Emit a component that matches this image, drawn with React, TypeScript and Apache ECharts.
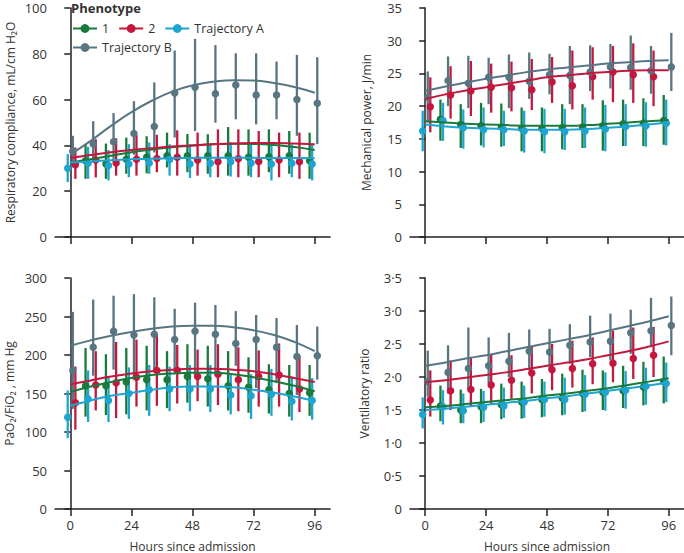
import React, { useEffect, useRef } from "react";
import * as echarts from "echarts";

// ---------- time positions (hours since admission) ----------
const hoursFit = [0, 8, 16, 24, 32, 40, 48, 56, 64, 72, 80, 88, 96];
const hoursP1 = [6, 14, 22, 30, 38, 46, 54, 62, 70, 78, 86, 94];
const hoursP2 = [2, 10, 18, 26, 34, 42, 50, 58, 66, 74, 82, 90];
const hoursTA = [-1, 7, 15, 23, 31, 39, 47, 55, 63, 71, 79, 87, 95];
const hoursTB = [1, 9, 17, 25, 33, 41, 49, 57, 65, 73, 81, 89, 97];
const xTicks = [0, 24, 48, 72, 96];

// ---------- Respiratory compliance ----------
const rcP1 = [33.3, 31.9, 34, 34.8, 35.5, 35.5, 35.5, 35.5, 34.8, 35, 35.5, 33.3];
const rcP1Lo = [25.4, 25.4, 27.6, 27.8, 30.4, 28.3, 27.6, 26.8, 26.8, 28.3, 27.6, 25.4];
const rcP1Hi = [40.5, 40.8, 43.4, 44, 45.6, 45, 44.9, 48, 47, 47, 46.3, 45.6];
const rcP1Fit = [32.5, 34, 35.5, 37, 38.2, 39.2, 40, 40.5, 40.7, 40.6, 40.2, 39.3, 38];

const rcP2 = [31.5, 33.6, 32.3, 34, 34.3, 34.8, 33.6, 32.9, 34.2, 33, 33.6, 32.9];
const rcP2Lo = [25.4, 26, 26.8, 26.8, 28.3, 26.8, 26.8, 26.1, 26.1, 26.1, 26.1, 25.4];
const rcP2Hi = [39.1, 42.7, 43.1, 44.6, 44.6, 46.6, 45.6, 47, 47, 46.3, 45.6, 45.6];
const rcP2Fit = [34.5, 35.8, 37, 38, 38.8, 39.5, 40, 40.5, 40.8, 41, 41, 40.8, 40.5];

const rcTA = [30, 32.2, 31.2, 31.9, 32.3, 33.8, 31.9, 32.2, 32.9, 32.3, 31.9, 32.2, 31.9];
const rcTALo = [24, 25.4, 24.7, 26.1, 27.6, 26.8, 25.8, 26.1, 26.4, 26.1, 24.7, 26.1, 24.7];
const rcTAHi = [36.2, 39.4, 38, 40.5, 41.3, 40.5, 40.5, 40.3, 41.3, 40.5, 40.3, 40.5, 40.3];
const rcTAFit = [32.5, 33, 33.5, 33.9, 34.2, 34.4, 34.5, 34.6, 34.6, 34.6, 34.5, 34.5, 34.4];

const rcTB = [37.4, 40.6, 41.6, 45.2, 48.2, 62.9, 65.4, 62.6, 66.4, 62, 62, 60, 58.4];
const rcTBLo = [30.4, 32.5, 32.9, 35.9, 36.9, 43.4, 46.3, 49.9, 51.4, 49.2, 51.4, 44.2, 40.6];
const rcTBHi = [44.2, 50.6, 54.1, 59.3, 67.5, 81.4, 86.5, 83.8, 80.2, 80.2, 76.6, 79.5, 78.5];
const rcTBFit = [36, 42, 48.5, 54.5, 59.5, 63.5, 66.2, 67.8, 68.5, 68.3, 67.2, 65.5, 63];

// ---------- Mechanical power ----------
const mpP1 = [18, 17.2, 17, 16.8, 16.6, 16.6, 16.7, 16.8, 17, 17.3, 17.4, 17.8];
const mpP1Lo = [14.7, 13.6, 14, 13.8, 13.1, 13.1, 13.4, 13.6, 13.2, 13.9, 13.9, 14.1];
const mpP1Hi = [21, 20.3, 20.5, 20.4, 19.8, 19.8, 20.3, 20.3, 20.9, 21, 21.2, 21.7];
const mpP1Fit = [17.7, 17.5, 17.3, 17.2, 17.1, 17, 17, 17, 17.1, 17.3, 17.5, 17.7, 17.9];

const mpP2 = [19.9, 21.7, 22.3, 22.9, 22.8, 22.5, 23.7, 23.1, 24.5, 25.2, 24.8, 24.5];
const mpP2Lo = [16, 18.1, 18.5, 19, 19.2, 19.4, 20.5, 19.5, 21, 20.6, 20.5, 20];
const mpP2Hi = [24.4, 26.1, 26.9, 26.5, 26.8, 27.2, 27.5, 28.5, 29, 29.2, 29.6, 28.5];
const mpP2Fit = [21.1, 21.8, 22.4, 22.9, 23.4, 23.9, 24.4, 24.7, 25, 25.2, 25.4, 25.5, 25.5];

const mpTA = [16.2, 17.8, 16.7, 16.4, 16.4, 16.2, 16.1, 16.1, 16.2, 16.5, 16.9, 17, 17.4];
const mpTALo = [13.1, 14.7, 13.5, 13.7, 13.9, 12.9, 12.8, 13.3, 13.6, 13.1, 13.9, 13.8, 14];
const mpTAHi = [19.3, 20.5, 19.5, 19.8, 19.3, 19.3, 19.6, 19.6, 19.8, 20.2, 20.3, 20.6, 21];
const mpTAFit = [17.2, 16.9, 16.7, 16.6, 16.5, 16.4, 16.4, 16.4, 16.5, 16.7, 16.9, 17.2, 17.5];

const mpTB = [21.4, 23.9, 23.5, 24.4, 24.4, 23.8, 24.8, 24.7, 25.2, 26, 25.9, 25.4, 26];
const mpTBLo = [17.5, 20, 19.7, 20.3, 19.7, 21.1, 21.8, 20.3, 22.3, 22.7, 22.5, 21.9, 22.3];
const mpTBHi = [25.3, 27.6, 27.7, 27.4, 27.9, 28.2, 28, 29.2, 29.3, 29.5, 30.8, 29.2, 31.2];
const mpTBFit = [22.3, 23, 23.6, 24.2, 24.7, 25.2, 25.6, 25.9, 26.2, 26.5, 26.7, 26.9, 27];

// ---------- PaO2/FiO2 ----------
const pfP1 = [160, 160, 165, 168, 168, 172, 169, 160, 158, 155, 150, 151];
const pfP1Lo = [120, 122, 123, 128, 131, 138, 133, 128, 125, 124, 120, 121];
const pfP1Hi = [209, 201, 209, 212, 205, 214, 212, 205, 197, 188, 187, 187];
const pfP1Fit = [152, 159, 165, 170, 174, 176, 177, 177, 175, 171, 166, 160, 153];

const pfP2 = [138, 161, 164, 171, 180, 180, 172, 175, 168, 172, 174, 156];
const pfP2Lo = [103, 128, 118, 133, 134, 137, 140, 135, 127, 133, 133, 126];
const pfP2Hi = [185, 205, 217, 220, 227, 213, 207, 214, 210, 206, 215, 199];
const pfP2Fit = [162, 167, 172, 176, 179, 181, 182, 182, 181, 179, 175, 170, 165];

const pfTA = [119, 143, 141, 150, 155, 156, 156, 156, 148, 147, 149, 140, 141];
const pfTALo = [92, 113, 113, 117, 121, 127, 127, 126, 123, 117, 121, 115, 116];
const pfTAHi = [154, 180, 172, 184, 187, 185, 187, 187, 176, 175, 182, 172, 170];
const pfTAFit = [134, 141, 147, 151, 155, 158, 159, 159, 158, 155, 151, 146, 140];

const pfTB = [180, 210, 231, 226, 227, 220, 231, 227, 215, 220, 210, 198, 199];
const pfTBLo = [130, 173, 181, 168, 179, 179, 174, 177, 186, 157, 164, 148, 168];
const pfTBHi = [256, 272, 277, 279, 275, 260, 268, 265, 257, 252, 248, 239, 237];
const pfTBFit = [212, 219, 225, 230, 234, 237, 238, 238, 236, 232, 226, 217, 205];

// ---------- Ventilatory ratio ----------
const vrP1 = [1.56, 1.5, 1.55, 1.58, 1.62, 1.66, 1.68, 1.75, 1.77, 1.79, 1.85, 1.93];
const vrP1Lo = [1.33, 1.3, 1.3, 1.36, 1.37, 1.39, 1.42, 1.47, 1.5, 1.53, 1.57, 1.6];
const vrP1Hi = [1.87, 1.81, 1.82, 1.9, 1.93, 1.97, 2.05, 2.11, 2.1, 2.17, 2.23, 2.31];
const vrP1Fit = [1.54, 1.56, 1.59, 1.62, 1.65, 1.68, 1.72, 1.75, 1.79, 1.83, 1.88, 1.93, 1.98];

const vrP2 = [1.65, 1.79, 1.81, 1.88, 1.95, 2.06, 2.11, 2.13, 2.2, 2.21, 2.28, 2.33];
const vrP2Lo = [1.4, 1.5, 1.55, 1.6, 1.67, 1.75, 1.8, 1.84, 1.89, 1.92, 1.97, 2.0];
const vrP2Hi = [2.1, 2.25, 2.3, 2.35, 2.33, 2.47, 2.5, 2.55, 2.6, 2.7, 2.75, 2.76];
const vrP2Fit = [1.92, 1.95, 1.99, 2.03, 2.07, 2.12, 2.17, 2.22, 2.27, 2.33, 2.39, 2.46, 2.54];

const vrTA = [1.43, 1.55, 1.49, 1.54, 1.56, 1.62, 1.66, 1.66, 1.74, 1.77, 1.8, 1.86, 1.9];
const vrTALo = [1.22, 1.28, 1.3, 1.32, 1.38, 1.38, 1.4, 1.43, 1.48, 1.49, 1.52, 1.58, 1.62];
const vrTAHi = [1.69, 1.8, 1.75, 1.79, 1.84, 1.87, 1.93, 1.99, 2.03, 2.07, 2.09, 2.14, 2.22];
const vrTAFit = [1.5, 1.52, 1.55, 1.58, 1.61, 1.64, 1.68, 1.71, 1.75, 1.79, 1.83, 1.87, 1.92];

const vrTB = [1.93, 2.07, 2.13, 2.17, 2.24, 2.39, 2.38, 2.48, 2.53, 2.54, 2.67, 2.7, 2.78];
const vrTBLo = [1.7, 1.75, 1.8, 1.9, 2.0, 2.1, 2.1, 2.2, 2.3, 2.25, 2.35, 2.45, 2.33];
const vrTBHi = [2.4, 2.48, 2.75, 2.6, 2.67, 2.72, 2.73, 2.8, 2.93, 2.96, 3.02, 3.2, 3.22];
const vrTBFit = [2.17, 2.22, 2.28, 2.33, 2.39, 2.45, 2.51, 2.57, 2.63, 2.7, 2.77, 2.84, 2.92];

// ---------- style ----------
const COLORS: Record<string, string> = {
  "1": "#1a7a3c",
  "2": "#c2183f",
  "Trajectory A": "#1ea4d0",
  "Trajectory B": "#587582",
};
const FONT = "'Open Sans', 'Noto Sans', sans-serif";
const TEXT = "#333333";
const AXIS = "#231f20";

type Group = { name: string; x: number[]; mean: number[]; lo: number[]; hi: number[]; fit: number[] };
type Panel = {
  title: string; min: number; max: number; interval: number;
  grid: { left: number; top: number; width: number; height: number };
  showX: boolean; nameGap: number; dot?: boolean; groups: Group[];
};

const panels: Panel[] = [
  {
    title: "Respiratory compliance, mL/cm H₂O", min: 0, max: 100, interval: 20,
    grid: { left: 55, top: 8, width: 275, height: 229 }, showX: false, nameGap: 39,
    groups: [
      { name: "1", x: hoursP1, mean: rcP1, lo: rcP1Lo, hi: rcP1Hi, fit: rcP1Fit },
      { name: "2", x: hoursP2, mean: rcP2, lo: rcP2Lo, hi: rcP2Hi, fit: rcP2Fit },
      { name: "Trajectory A", x: hoursTA, mean: rcTA, lo: rcTALo, hi: rcTAHi, fit: rcTAFit },
      { name: "Trajectory B", x: hoursTB, mean: rcTB, lo: rcTBLo, hi: rcTBHi, fit: rcTBFit },
    ],
  },
  {
    title: "Mechanical power, J/min", min: 0, max: 35, interval: 5,
    grid: { left: 410, top: 8, width: 276, height: 229 }, showX: false, nameGap: 38,
    groups: [
      { name: "1", x: hoursP1, mean: mpP1, lo: mpP1Lo, hi: mpP1Hi, fit: mpP1Fit },
      { name: "2", x: hoursP2, mean: mpP2, lo: mpP2Lo, hi: mpP2Hi, fit: mpP2Fit },
      { name: "Trajectory A", x: hoursTA, mean: mpTA, lo: mpTALo, hi: mpTAHi, fit: mpTAFit },
      { name: "Trajectory B", x: hoursTB, mean: mpTB, lo: mpTBLo, hi: mpTBHi, fit: mpTBFit },
    ],
  },
  {
    title: "PaO₂/FiO₂ , mm Hg", min: 0, max: 300, interval: 50,
    grid: { left: 55, top: 278, width: 275, height: 231 }, showX: true, nameGap: 40,
    groups: [
      { name: "1", x: hoursP1, mean: pfP1, lo: pfP1Lo, hi: pfP1Hi, fit: pfP1Fit },
      { name: "2", x: hoursP2, mean: pfP2, lo: pfP2Lo, hi: pfP2Hi, fit: pfP2Fit },
      { name: "Trajectory A", x: hoursTA, mean: pfTA, lo: pfTALo, hi: pfTAHi, fit: pfTAFit },
      { name: "Trajectory B", x: hoursTB, mean: pfTB, lo: pfTBLo, hi: pfTBHi, fit: pfTBFit },
    ],
  },
  {
    title: "Ventilatory ratio", min: 0, max: 3.5, interval: 0.5,
    grid: { left: 410, top: 278, width: 276, height: 231 }, showX: true, nameGap: 40, dot: true,
    groups: [
      { name: "1", x: hoursP1, mean: vrP1, lo: vrP1Lo, hi: vrP1Hi, fit: vrP1Fit },
      { name: "2", x: hoursP2, mean: vrP2, lo: vrP2Lo, hi: vrP2Hi, fit: vrP2Fit },
      { name: "Trajectory A", x: hoursTA, mean: vrTA, lo: vrTALo, hi: vrTAHi, fit: vrTAFit },
      { name: "Trajectory B", x: hoursTB, mean: vrTB, lo: vrTBLo, hi: vrTBHi, fit: vrTBFit },
    ],
  },
];

function buildOption() {
  const grid: any[] = [];
  const xAxis: any[] = [];
  const yAxis: any[] = [];
  const series: any[] = [];

  panels.forEach((p, i) => {
    grid.push({ ...p.grid, containLabel: false });
    xAxis.push({
      type: "value", gridIndex: i, min: -6, max: 102,
      splitLine: { show: false },
      axisLine: { show: true, lineStyle: { color: AXIS, width: 1.5 } },
      axisTick: { show: true, length: 7, customValues: xTicks, lineStyle: { color: AXIS, width: 1.5 } },
      axisLabel: {
        show: p.showX, customValues: xTicks, margin: 9,
        color: TEXT, fontFamily: FONT, fontSize: 13,
      },
      name: p.showX ? "Hours since admission" : "",
      nameLocation: "middle", nameGap: 31,
      nameTextStyle: { color: TEXT, fontFamily: FONT, fontSize: 12 },
    });
    yAxis.push({
      type: "value", gridIndex: i, min: p.min, max: p.max, interval: p.interval,
      splitLine: { show: false },
      axisLine: { show: true, lineStyle: { color: AXIS, width: 1.5 } },
      axisTick: { show: true, length: 6, lineStyle: { color: AXIS, width: 1.5 } },
      axisLabel: {
        margin: 8, color: TEXT, fontFamily: FONT, fontSize: 13,
        formatter: (v: number) => (p.dot ? (v === 0 ? "0" : v.toFixed(1).replace(".", "·")) : String(v)),
      },
      name: p.title, nameLocation: "middle", nameGap: p.nameGap,
      nameTextStyle: { color: TEXT, fontFamily: FONT, fontSize: 12 },
    });

    p.groups.forEach((g) => {
      const color = COLORS[g.name];
      series.push({
        type: "line", name: g.name, xAxisIndex: i, yAxisIndex: i,
        data: hoursFit.map((h, k) => [h, g.fit[k]]),
        smooth: true, showSymbol: false, symbol: "circle", z: 4,
        lineStyle: { color, width: 2 }, itemStyle: { color },
        silent: true,
      });
      series.push({
        type: "custom", name: g.name, xAxisIndex: i, yAxisIndex: i, z: 2,
        data: g.x.map((h, k) => [h, g.lo[k], g.hi[k]]),
        encode: { x: 0, y: [1, 2] },
        itemStyle: { color },
        renderItem: (_params: any, api: any) => {
          const a = api.coord([api.value(0), api.value(1)]);
          const b = api.coord([api.value(0), api.value(2)]);
          return {
            type: "line",
            shape: { x1: a[0], y1: a[1], x2: b[0], y2: b[1] },
            style: { stroke: color, lineWidth: 2.3 },
          };
        },
      });
      series.push({
        type: "scatter", name: g.name, xAxisIndex: i, yAxisIndex: i, z: 3,
        data: g.x.map((h, k) => [h, g.mean[k]]),
        symbol: "circle", symbolSize: 7.5, itemStyle: { color, opacity: 1 },
      });
    });
  });

  const legendCommon = {
    orient: "horizontal", itemWidth: 24, itemHeight: 11, itemGap: 9,
    textStyle: { color: TEXT, fontFamily: FONT, fontSize: 12.5 },
    selectedMode: false,
  };

  return {
    animation: false,
    backgroundColor: "#ffffff",
    grid, xAxis, yAxis, series,
    legend: [
      { ...legendCommon, left: 67, top: 17, data: ["1", "2", "Trajectory A"] },
      { ...legendCommon, left: 67, top: 36, data: ["Trajectory B"] },
    ],
    graphic: [
      {
        type: "text", left: 71, top: 1,
        style: { text: "Phenotype", fill: TEXT, font: `bold 13px ${FONT}` },
      },
    ],
  };
}

export default function App() {
  const ref = useRef<HTMLDivElement>(null);
  useEffect(() => {
    if (!ref.current) return;
    const chart = echarts.init(ref.current, undefined, { renderer: "svg" });
    chart.setOption(buildOption() as any);
    return () => chart.dispose();
  }, []);
  return (
    <div
      ref={ref}
      style={{ position: "fixed", left: 0, top: 0, width: 684, height: 553, background: "#fff" }}
    />
  );
}
